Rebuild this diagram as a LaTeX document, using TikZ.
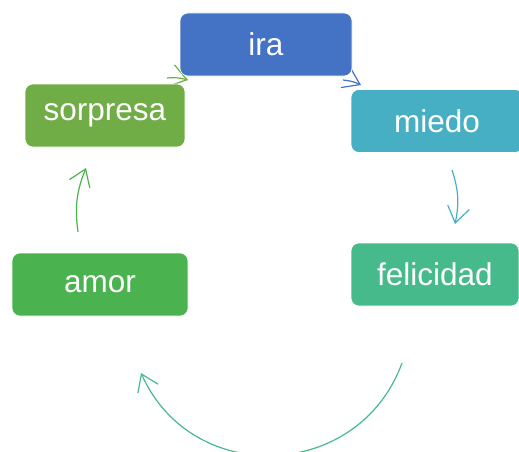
\documentclass[tikz,border=0pt]{standalone}
\usepackage{fontspec}
\setmainfont{Liberation Sans}
\usetikzlibrary{
		arrows.meta
	}
\definecolor{iraC}{HTML}{4472C4}
\definecolor{miedoC}{HTML}{46AFC3}
\definecolor{felicidadC}{HTML}{47BA8C}
\definecolor{amorC}{HTML}{4AB350}
\definecolor{sorpresaC}{HTML}{70AD47}
\tikzset{
		emo/.style={rounded corners=8pt, draw=white, line width=.6pt, text=white, inner sep=0pt,
			minimum height=63pt, font=\fontsize{31.5}{38}\selectfont},
		cyc/.style={-{Straight Barb[length=16pt,width=22pt]}, line width=1.2pt}
	}

\begin{document}
\begin{tikzpicture}[x=1pt, y=1pt] % (each unit = 1pt, so 1 unit = 1 pixel of the picture)
		\useasboundingbox (0,0) rectangle (519,451);
		% ends of the arrows of the cycle
		\coordinate (sorIraA) at (167,373); \coordinate (sorIraB) at (188,371);
		\coordinate (iraMieA) at (343,371); \coordinate (iraMieB) at (361,366);
		\coordinate (mieFelA) at (452,281); \coordinate (mieFelB) at (455,227);
		\coordinate (felAmoA) at (402,88);  \coordinate (felAmoB) at (141,78);
		\coordinate (amoSorA) at (78,219);  \coordinate (amoSorB) at (86,283);
		\draw[cyc, sorpresaC] (sorIraA) to[bend left=10] (sorIraB);
		\draw[cyc, iraC] (iraMieA) to[bend left=10] (iraMieB);
		\draw[cyc, miedoC] (mieFelA) to[bend left=15] (mieFelB);
		\draw[cyc, felicidadC] (felAmoA) to[out=-110, in=-66, looseness=1.23] (felAmoB); % the long one at the bottom
		\draw[cyc, amorC] (amoSorA) to[bend left=15] (amoSorB);
		% the boxes, drawn over the arrow tails
		\node[emo, fill=iraC, minimum width=172pt] (ira) at (266,406.5) {ira};
		\node[emo, fill=miedoC, minimum width=172pt] (miedo) at (437,330) {miedo};
		\node[emo, fill=felicidadC, minimum width=168pt] (felicidad) at (435,176.5) {felicidad};
		\node[emo, fill=amorC, minimum width=176pt] (amor) at (100,166.5) {amor};
		\node[emo, fill=sorpresaC, minimum width=160pt] (sorpresa) at (105,335.5) {sorpresa};
	\end{tikzpicture}
\end{document}
